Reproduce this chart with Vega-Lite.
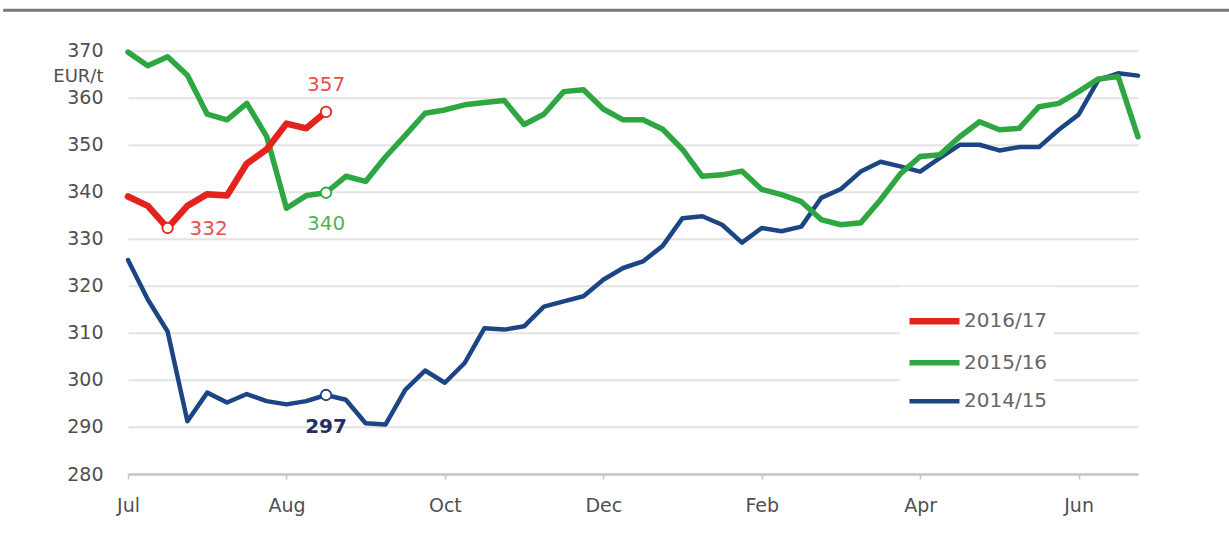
{
  "$schema": "https://vega.github.io/schema/vega-lite/v6.json",
  "width": 1010,
  "height": 423.3,
  "autosize": {"type": "none"},
  "padding": {"left": 128, "top": 50.7, "right": 91, "bottom": 59},
  "background": "white",
  "config": {"view": {"stroke": null}, "font": "DejaVu Sans"},
  "datasets": {
    "prices": [
      {"w":0,"s":"2014/15","p":325.5},{"w":1,"s":"2014/15","p":317.1},{"w":2,"s":"2014/15","p":310.3},{"w":3,"s":"2014/15","p":291.2},
      {"w":4,"s":"2014/15","p":297.3},{"w":5,"s":"2014/15","p":295.2},{"w":6,"s":"2014/15","p":297},{"w":7,"s":"2014/15","p":295.5},
      {"w":8,"s":"2014/15","p":294.8},{"w":9,"s":"2014/15","p":295.5},{"w":10,"s":"2014/15","p":296.8},{"w":11,"s":"2014/15","p":295.8},
      {"w":12,"s":"2014/15","p":290.8},{"w":13,"s":"2014/15","p":290.5},{"w":14,"s":"2014/15","p":297.9},{"w":15,"s":"2014/15","p":302},
      {"w":16,"s":"2014/15","p":299.4},{"w":17,"s":"2014/15","p":303.6},{"w":18,"s":"2014/15","p":311},{"w":19,"s":"2014/15","p":310.7},
      {"w":20,"s":"2014/15","p":311.4},{"w":21,"s":"2014/15","p":315.6},{"w":22,"s":"2014/15","p":316.7},{"w":23,"s":"2014/15","p":317.8},
      {"w":24,"s":"2014/15","p":321.3},{"w":25,"s":"2014/15","p":323.8},{"w":26,"s":"2014/15","p":325.2},{"w":27,"s":"2014/15","p":328.5},
      {"w":28,"s":"2014/15","p":334.4},{"w":29,"s":"2014/15","p":334.8},{"w":30,"s":"2014/15","p":333},{"w":31,"s":"2014/15","p":329.2},
      {"w":32,"s":"2014/15","p":332.3},{"w":33,"s":"2014/15","p":331.6},{"w":34,"s":"2014/15","p":332.6},{"w":35,"s":"2014/15","p":338.7},
      {"w":36,"s":"2014/15","p":340.6},{"w":37,"s":"2014/15","p":344.3},{"w":38,"s":"2014/15","p":346.4},{"w":39,"s":"2014/15","p":345.4},
      {"w":40,"s":"2014/15","p":344.3},{"w":41,"s":"2014/15","p":347.2},{"w":42,"s":"2014/15","p":350},{"w":43,"s":"2014/15","p":350},
      {"w":44,"s":"2014/15","p":348.8},{"w":45,"s":"2014/15","p":349.5},{"w":46,"s":"2014/15","p":349.5},{"w":47,"s":"2014/15","p":353.2},
      {"w":48,"s":"2014/15","p":356.4},{"w":49,"s":"2014/15","p":363.8},{"w":50,"s":"2014/15","p":365.2},{"w":51,"s":"2014/15","p":364.7},
      {"w":0,"s":"2015/16","p":369.7},{"w":1,"s":"2015/16","p":366.8},{"w":2,"s":"2015/16","p":368.7},{"w":3,"s":"2015/16","p":364.8},
      {"w":4,"s":"2015/16","p":356.5},{"w":5,"s":"2015/16","p":355.3},{"w":6,"s":"2015/16","p":358.8},{"w":7,"s":"2015/16","p":351.8},
      {"w":8,"s":"2015/16","p":336.5},{"w":9,"s":"2015/16","p":339.2},{"w":10,"s":"2015/16","p":339.8},{"w":11,"s":"2015/16","p":343.3},
      {"w":12,"s":"2015/16","p":342.2},{"w":13,"s":"2015/16","p":347.4},{"w":14,"s":"2015/16","p":352},{"w":15,"s":"2015/16","p":356.7},
      {"w":16,"s":"2015/16","p":357.4},{"w":17,"s":"2015/16","p":358.5},{"w":18,"s":"2015/16","p":359},{"w":19,"s":"2015/16","p":359.4},
      {"w":20,"s":"2015/16","p":354.3},{"w":21,"s":"2015/16","p":356.5},{"w":22,"s":"2015/16","p":361.3},{"w":23,"s":"2015/16","p":361.7},
      {"w":24,"s":"2015/16","p":357.6},{"w":25,"s":"2015/16","p":355.3},{"w":26,"s":"2015/16","p":355.3},{"w":27,"s":"2015/16","p":353.3},
      {"w":28,"s":"2015/16","p":349},{"w":29,"s":"2015/16","p":343.3},{"w":30,"s":"2015/16","p":343.6},{"w":31,"s":"2015/16","p":344.4},
      {"w":32,"s":"2015/16","p":340.5},{"w":33,"s":"2015/16","p":339.4},{"w":34,"s":"2015/16","p":337.9},{"w":35,"s":"2015/16","p":334.1},
      {"w":36,"s":"2015/16","p":333},{"w":37,"s":"2015/16","p":333.4},{"w":38,"s":"2015/16","p":338.3},{"w":39,"s":"2015/16","p":343.8},
      {"w":40,"s":"2015/16","p":347.5},{"w":41,"s":"2015/16","p":347.9},{"w":42,"s":"2015/16","p":351.7},{"w":43,"s":"2015/16","p":354.9},
      {"w":44,"s":"2015/16","p":353.2},{"w":45,"s":"2015/16","p":353.5},{"w":46,"s":"2015/16","p":358.1},{"w":47,"s":"2015/16","p":358.8},
      {"w":48,"s":"2015/16","p":361.3},{"w":49,"s":"2015/16","p":364},{"w":50,"s":"2015/16","p":364.5},{"w":51,"s":"2015/16","p":351.7},
      {"w":0,"s":"2016/17","p":339},{"w":1,"s":"2016/17","p":337},{"w":2,"s":"2016/17","p":332.3},{"w":3,"s":"2016/17","p":337},
      {"w":4,"s":"2016/17","p":339.5},{"w":5,"s":"2016/17","p":339.2},{"w":6,"s":"2016/17","p":346},{"w":7,"s":"2016/17","p":349},
      {"w":8,"s":"2016/17","p":354.5},{"w":9,"s":"2016/17","p":353.5},{"w":10,"s":"2016/17","p":357}
    ]
  },
  "data": {"name": "prices"},
  "layer": [
    {
      "data": {"values": [{}]},
      "mark": {"type": "rule", "color": "#767676", "strokeWidth": 3},
      "encoding": {
        "x": {"datum": -6.3, "type": "quantitative", "scale": {"domain": [0, 51], "nice": false, "zero": false}},
        "x2": {"datum": 55.6},
        "y": {"datum": 378.6, "type": "quantitative", "scale": {"domain": [280, 370], "nice": false, "zero": false}}
      }
    },
    {
      "mark": {"type": "line", "strokeCap": "round", "strokeJoin": "round"},
      "encoding": {
        "x": {
          "field": "w", "type": "quantitative",
          "scale": {"domain": [0, 51], "nice": false, "zero": false},
          "axis": {
            "title": null, "values": [0, 8, 16, 24, 32, 40, 48],
            "labelExpr": "['Jul','Aug','Oct','Dec','Feb','Apr','Jun'][datum.value/8]",
            "grid": false, "domainColor": "#c6c6c6", "domainWidth": 2.5,
            "tickColor": "#c6c6c6", "tickSize": 5, "tickWidth": 1.5,
            "labelFontSize": 19, "labelPadding": 17, "labelColor": "#505050", "labelFlush": false
          }
        },
        "y": {
          "field": "p", "type": "quantitative",
          "scale": {"domain": [280, 370], "nice": false, "zero": false},
          "axis": {
            "title": "EUR/t", "values": [280, 290, 300, 310, 320, 330, 340, 350, 360, 370],
            "domain": false, "ticks": false, "labelPadding": 25, "labelFontSize": 19, "labelColor": "#505050",
            "grid": true, "gridColor": "#e3e3e3", "gridWidth": 2,
            "titleAngle": 0, "titleAlign": "right", "titleBaseline": "middle", "titleX": -25, "titleY": 25.5,
            "titleFontSize": 18, "titleFontWeight": "normal", "titleColor": "#505050"
          }
        },
        "color": {
          "field": "s", "type": "nominal",
          "scale": {"domain": ["2016/17", "2015/16", "2014/15"], "range": ["#e3231d", "#2ea743", "#1c4584"]},
          "legend": {
            "title": null, "orient": "none", "legendX": 772, "legendY": 236,
            "fillColor": "white", "padding": 6, "symbolType": "stroke", "symbolSize": 2500,
            "symbolStrokeWidth": 5, "labelFontSize": 20, "labelColor": "#666666", "labelOffset": 1, "rowPadding": 0
          }
        },
        "strokeWidth": {
          "field": "s", "type": "nominal",
          "scale": {"domain": ["2016/17", "2015/16", "2014/15"], "range": [6.5, 4.5, 4.5]},
          "legend": null
        }
      }
    },
    {
      "transform": [{"filter": "datum.w == 10 || (datum.s == '2016/17' && datum.w == 2)"}],
      "mark": {"type": "point", "shape": "circle", "filled": true, "fill": "white", "size": 110, "strokeWidth": 1.8, "opacity": 1},
      "encoding": {
        "x": {"field": "w", "type": "quantitative"},
        "y": {"field": "p", "type": "quantitative"},
        "stroke": {
          "field": "s", "type": "nominal",
          "scale": {"domain": ["2016/17", "2015/16", "2014/15"], "range": ["#e3231d", "#2ea743", "#1c4584"]},
          "legend": null
        }
      }
    },
    {
      "transform": [{"filter": "datum.s == '2016/17' && datum.w == 10"}],
      "mark": {"type": "text", "fontSize": 20, "color": "#ee4d4d", "dy": -27, "align": "center", "baseline": "middle"},
      "encoding": {
        "x": {"field": "w", "type": "quantitative"},
        "y": {"field": "p", "type": "quantitative"},
        "text": {"field": "p", "type": "quantitative", "format": ".0f"}
      }
    },
    {
      "transform": [{"filter": "datum.s == '2016/17' && datum.w == 2"}],
      "mark": {"type": "text", "fontSize": 20, "color": "#ee4d4d", "dx": 22, "dy": 1, "align": "left", "baseline": "middle"},
      "encoding": {
        "x": {"field": "w", "type": "quantitative"},
        "y": {"field": "p", "type": "quantitative"},
        "text": {"field": "p", "type": "quantitative", "format": ".0f"}
      }
    },
    {
      "transform": [{"filter": "datum.s == '2015/16' && datum.w == 10"}],
      "mark": {"type": "text", "fontSize": 20, "color": "#4fb35a", "dy": 31, "align": "center", "baseline": "middle"},
      "encoding": {
        "x": {"field": "w", "type": "quantitative"},
        "y": {"field": "p", "type": "quantitative"},
        "text": {"field": "p", "type": "quantitative", "format": ".0f"}
      }
    },
    {
      "transform": [{"filter": "datum.s == '2014/15' && datum.w == 10"}],
      "mark": {"type": "text", "fontSize": 20, "fontWeight": "bold", "color": "#232d66", "dy": 32, "align": "center", "baseline": "middle"},
      "encoding": {
        "x": {"field": "w", "type": "quantitative"},
        "y": {"field": "p", "type": "quantitative"},
        "text": {"field": "p", "type": "quantitative", "format": ".0f"}
      }
    }
  ]
}
